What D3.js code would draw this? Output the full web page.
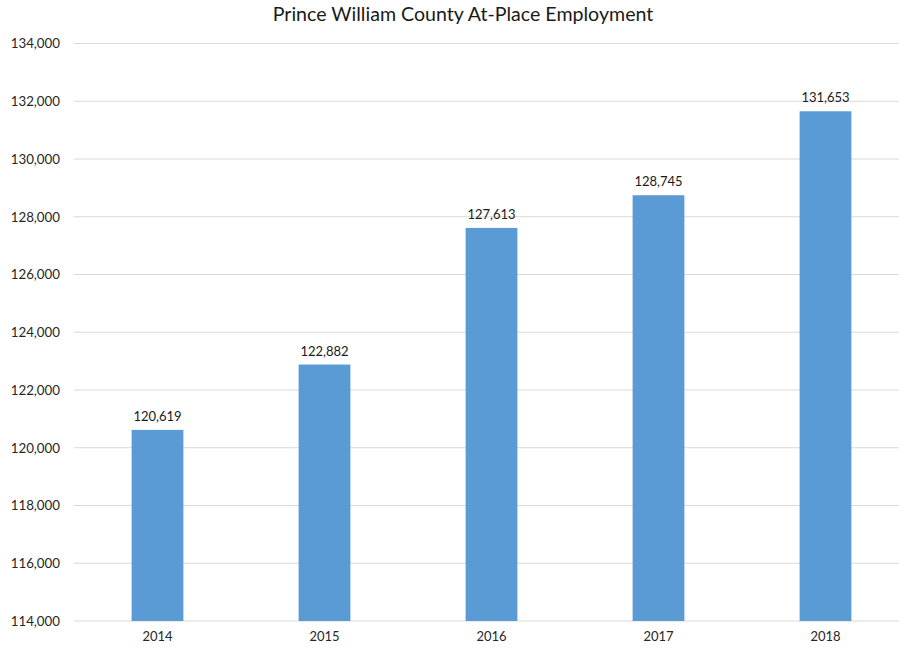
<!DOCTYPE html>
<html><head><meta charset="utf-8">
<script src="https://cdn.jsdelivr.net/npm/d3@7"></script>
<style>body{margin:0;background:#fff}svg{display:block}</style>
</head><body>
<script>
const years = ["2014","2015","2016","2017","2018"];
const employment = [120619,122882,127613,128745,131653];
const yTicks = [114000,116000,118000,120000,122000,124000,126000,128000,130000,132000,134000];
const title = "Prince William County At-Place Employment";

const W = 899, H = 651;
const font = "Lato, 'Open Sans', sans-serif";
const svg = d3.select("body").append("svg").attr("width", W).attr("height", H);

const x = d3.scaleBand().domain(years).range([74, 909]).padding(0);
const y = d3.scaleLinear().domain([114000, 134000]).range([621, 43.5]);
const barW = x.bandwidth() * 0.31;

svg.append("g").selectAll("line").data(yTicks).join("line")
  .attr("x1", 74).attr("x2", W).attr("y1", d => y(d)).attr("y2", d => y(d))
  .attr("stroke", "#d9d9d9").attr("stroke-width", 1);

const yAxis = d3.axisLeft(y).tickValues(yTicks).tickSize(0).tickPadding(0).tickFormat(d3.format(","));
svg.append("g").attr("transform", "translate(60,0)").call(yAxis)
  .call(g => g.select(".domain").remove())
  .selectAll("text").attr("font-family", font).attr("font-size", 13.3).attr("fill", "#262626");

svg.append("g").selectAll("rect").data(employment).join("rect")
  .attr("x", (d, i) => x(years[i]) + x.bandwidth() / 2 - barW / 2)
  .attr("width", barW)
  .attr("y", d => y(d))
  .attr("height", d => y(114000) - y(d))
  .attr("fill", "#5b9bd5");

svg.append("g").selectAll("text").data(employment).join("text")
  .attr("x", (d, i) => x(years[i]) + x.bandwidth() / 2)
  .attr("y", d => y(d) - 9)
  .attr("text-anchor", "middle")
  .attr("font-family", font).attr("font-size", 13).attr("fill", "#1a1a1a")
  .text(d3.format(","));

const xAxis = d3.axisBottom(x).tickSize(0).tickPadding(0);
svg.append("g").attr("transform", "translate(0,621)").call(xAxis)
  .call(g => g.select(".domain").remove())
  .selectAll("text").attr("dy", "1.55em").attr("font-family", font).attr("font-size", 13).attr("fill", "#262626");

svg.append("text").attr("x", 463).attr("y", 21).attr("text-anchor", "middle")
  .attr("font-family", font).attr("font-size", 19.6).attr("fill", "#1a1a1a").text(title);
</script>
</body></html>
